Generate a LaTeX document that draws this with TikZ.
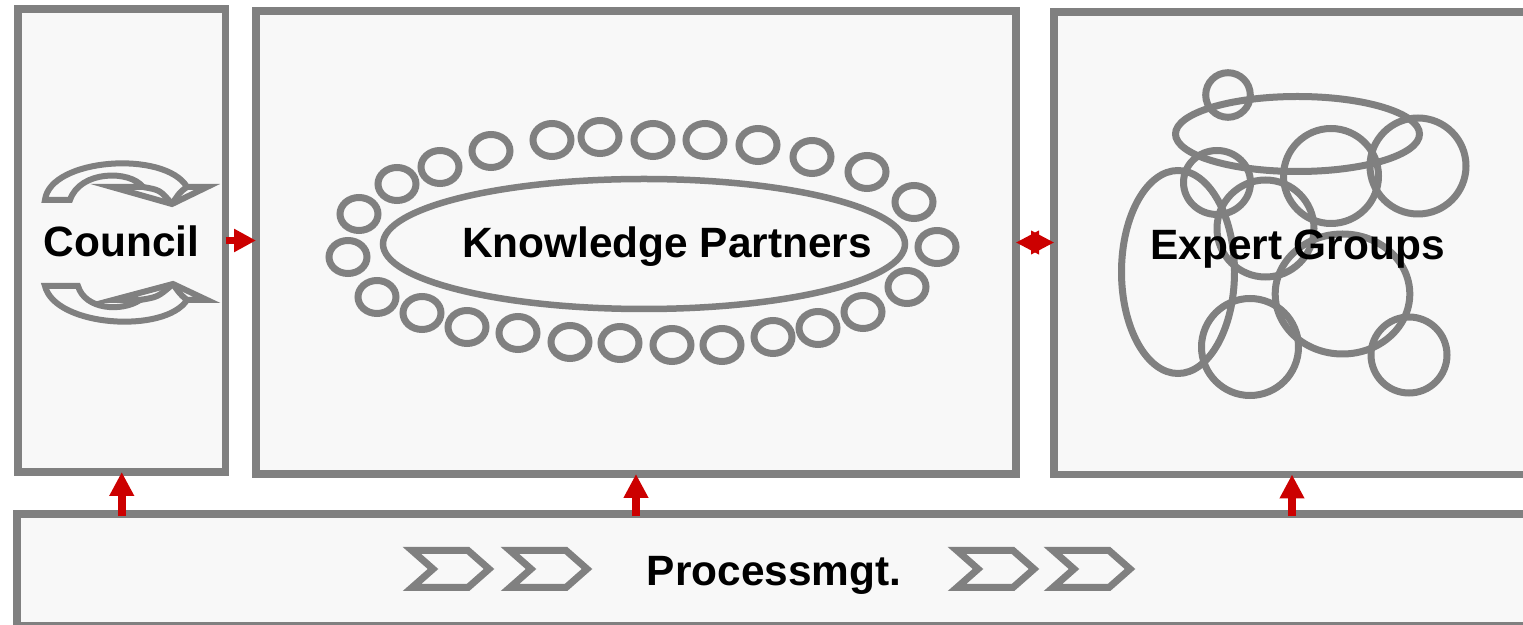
\documentclass[tikz,border=0pt]{standalone}
\usepackage{fontspec}
\setmainfont{Liberation Sans}
\usetikzlibrary{arrows.meta}
\definecolor{boxgray}{RGB}{128,128,128}
\definecolor{boxfill}{RGB}{248,248,248}
\definecolor{arrowred}{RGB}{204,0,0}
\tikzset{every picture/.style={line width=0.75pt}}
\tikzset{
  panel/.style={draw=boxgray, fill=boxfill, line width=3.75pt, inner sep=0pt, outer sep=0pt, rectangle},
  ring/.style={draw=boxgray, line width=3.5pt},
  blob/.style={draw=boxgray, line width=3.5pt},
  loopshape/.style={draw=boxgray, fill=boxfill, line width=3pt, line join=miter},
  chevron/.style={draw=boxgray, line width=3.5pt, line join=miter},
  boxtext/.style={font=\fontsize{21.2}{25}\selectfont\bfseries, text=black, inner sep=0pt, anchor=base},
  redup/.style={draw=arrowred, line width=4pt, -{Triangle[length=12pt,width=11.7pt]}},
  redright/.style={draw=arrowred, line width=3.5pt, -{Triangle[length=11pt,width=11pt]}},
  redboth/.style={draw=arrowred, line width=2pt, {Triangle[length=11.5pt,width=11.5pt]}-{Triangle[length=11.5pt,width=11.5pt]}},
}
\begin{document}
\begin{tikzpicture}[x=0.5pt,y=0.5pt,yscale=-1,xscale=1]
\useasboundingbox (0,0) rectangle (1523,625);

% Boxes
\node[panel, minimum width=103.75pt, minimum height=231.5pt] (council) at (121.75,240.5) {};
\node[panel, minimum width=380pt, minimum height=231.5pt] (partners) at (636,242.5) {};
\node[panel, minimum width=238pt, minimum height=231.25pt] (experts) at (1292,243.25) {};
\node[panel, minimum width=757pt, minimum height=55.75pt] (process) at (774,569.75) {};

% Council loops
\draw[loopshape] (45,200) .. controls (50,158) and (165,150) .. (187,187) -- (207,187) -- (172,204) -- (112,187) -- (143,187) .. controls (130,170) and (80,170) .. (70,200) -- cycle;
\draw[loopshape, fill=none] (143,187) .. controls (160,190) .. (172,204);
\draw[loopshape, fill=none] (187,187) .. controls (180,192) .. (172,204);
\draw[loopshape] (45,286) .. controls (55,327) and (165,334) .. (187,300) -- (207,300) -- (173,284) -- (113,300) -- (140,300) .. controls (122,312) and (85,310) .. (78,286) -- cycle;
\draw[loopshape, fill=none] (140,300) .. controls (158,297) .. (173,284);
\draw[loopshape, fill=none] (187,300) .. controls (180,294) .. (173,284);

% Partner ring
\draw[blob, line width=3.25pt] (644,244) ellipse [x radius=261, y radius=65];
\foreach \p in {(359,214),(397,184),(440,167),(491,151),(552,140),(600,137),(653,140),(705,140),(758,145),(812,157),(867,172),(914,202),(937,247),(907,287),(863,312),(818,328),(773,337),(722,345),(672,345),(620,343),(570,342),(518,333),(467,327),(422,313),(377,297),(348,257)}
  \draw[ring] \p ellipse [x radius=19, y radius=16.5];

% Expert groups
\draw[blob] (1228,95) circle [radius=22.3];
\draw[blob] (1297.5,134) ellipse [x radius=122, y radius=37.5];
\draw[blob] (1217,182.5) ellipse [x radius=33.5, y radius=32];
\draw[blob] (1331,176) circle [radius=47.5];
\draw[blob] (1418,166) circle [radius=48];
\draw[blob] (1265.5,228.5) circle [radius=48.5];
\draw[blob] (1178,272) ellipse [x radius=56.5, y radius=101.5];
\draw[blob] (1342.5,294) ellipse [x radius=67.3, y radius=60];
\draw[blob] (1250,347) circle [radius=48.5];
\draw[blob] (1409,355) circle [radius=38];

% Process chevrons
\foreach \cx in {412,510,957,1053}
  \draw[chevron] (\cx,550.5) -- ++(56,0) -- ++(21,18.5) -- ++(-21,18.5) -- ++(-56,0) -- ++(21,-18.5) -- cycle;

% Labels
\node[boxtext] (councillabel) at (121.5,257) {Council};
\node[boxtext] (partnerslabel) at (667,258) {Knowledge Partners};
\node[boxtext] (expertslabel) at (1297.5,260) {Expert Groups};
\node[boxtext] (processlabel) at (774,586) {Processmgt.};

% Red arrows
\draw[redright] (council.east) -- (partners.west |- council.east);
\draw[redboth] (partners.east) -- (experts.west |- partners.east);
\draw[redup] ([yshift=1.25pt]process.north -| council.south) -- (council.south);
\draw[redup] ([yshift=1.25pt]process.north -| partners.south) -- (partners.south);
\draw[redup] ([yshift=1.25pt]process.north -| experts.south) -- (experts.south);

\end{tikzpicture}
\end{document}
